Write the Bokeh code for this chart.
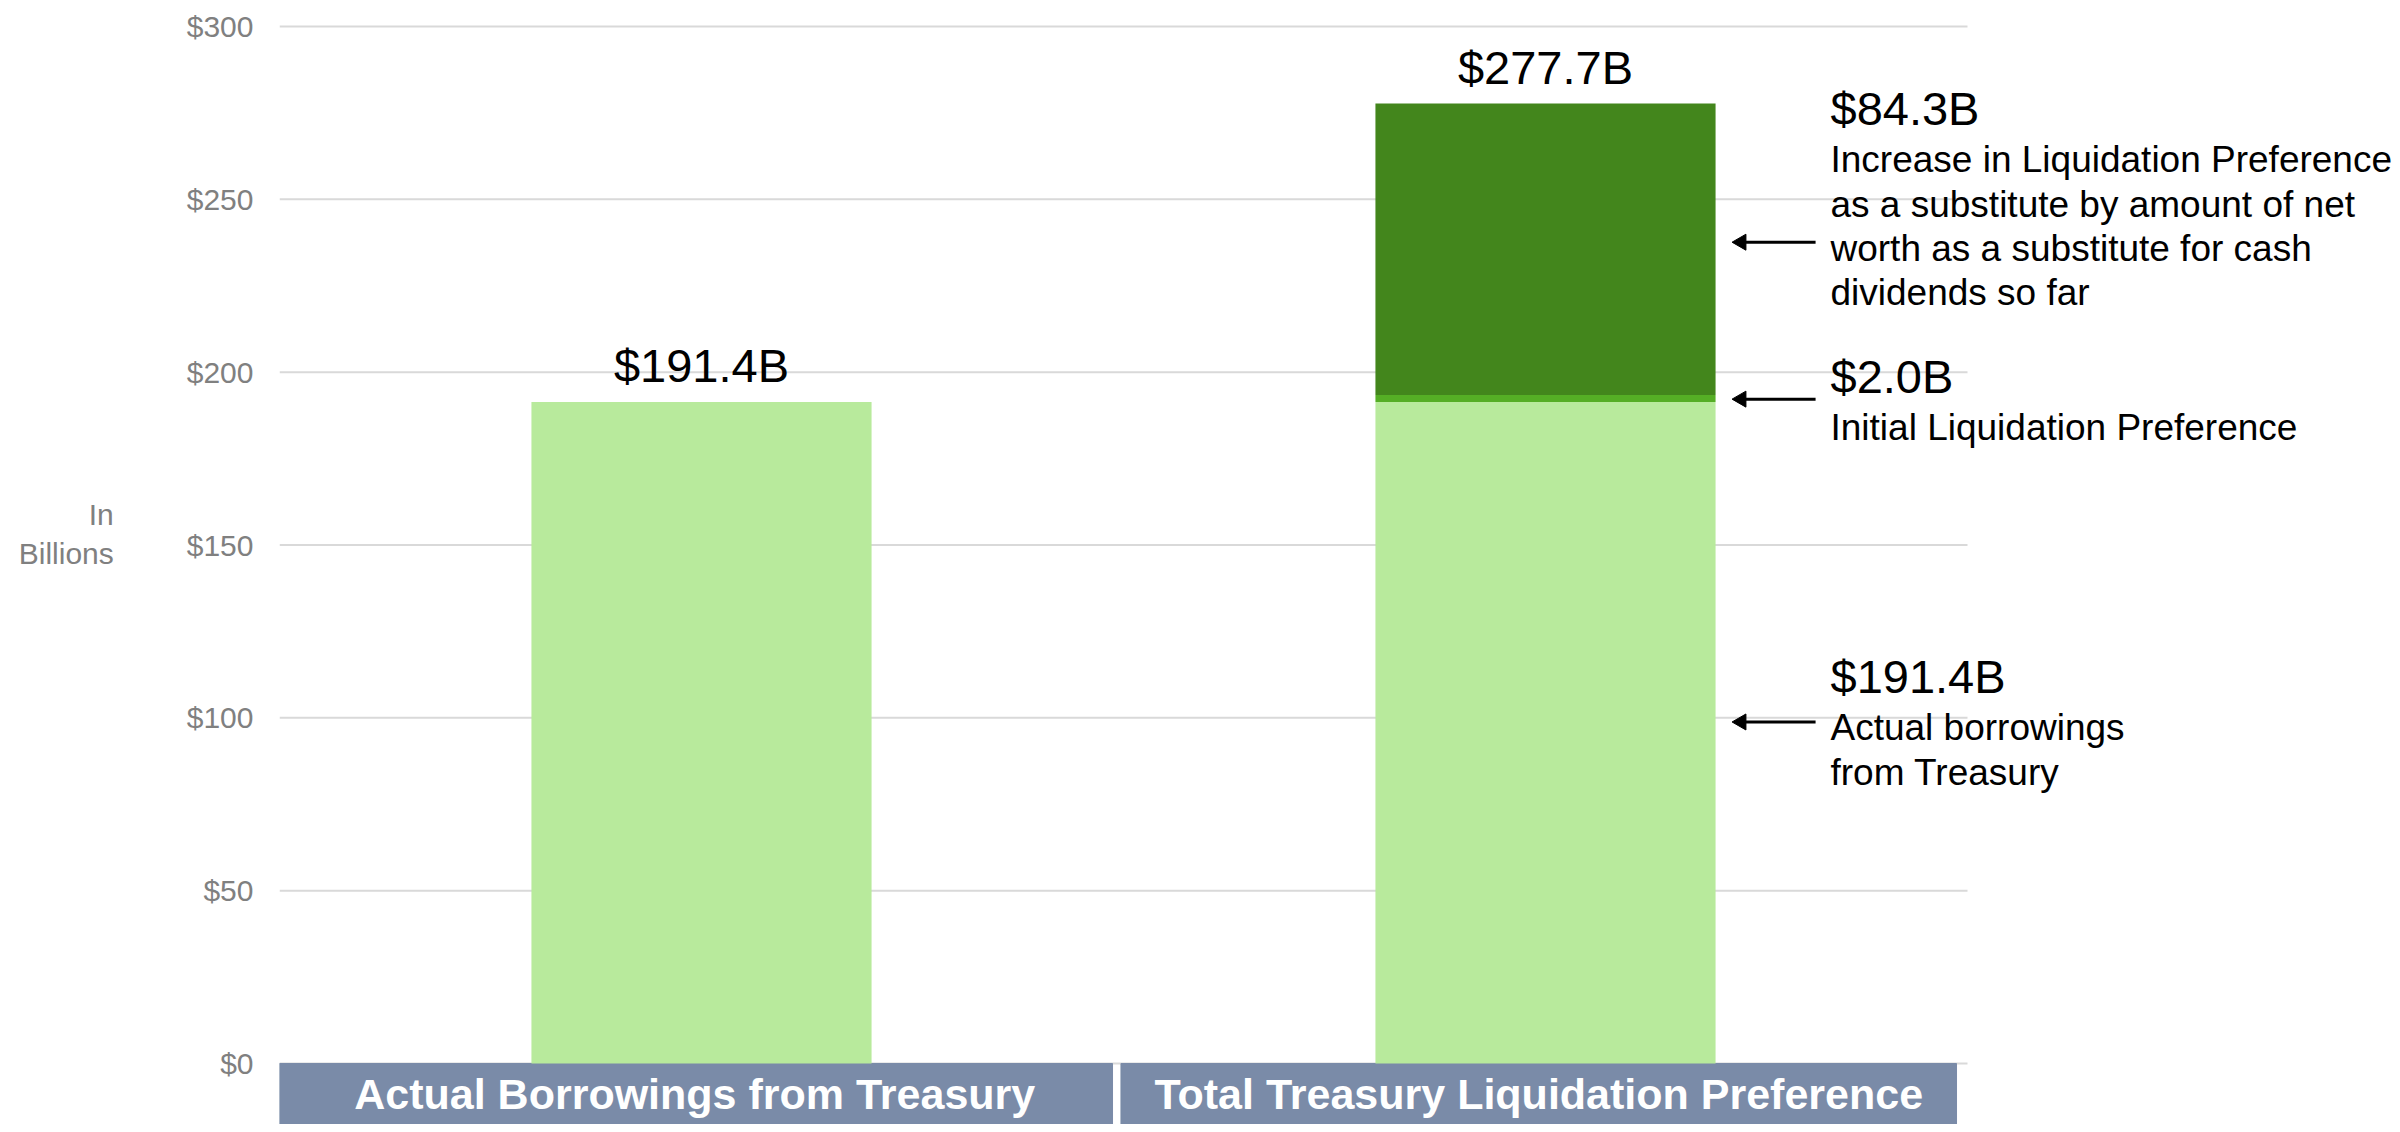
from math import pi
from bokeh.plotting import figure
from bokeh.models import ColumnDataSource, FixedTicker, NumeralTickFormatter, LabelSet, Range1d
from bokeh.core.properties import value
from bokeh.embed import file_html
from bokeh.resources import INLINE

# ---- data ----
categories = ["Actual Borrowings from Treasury", "Total Treasury Liquidation Preference"]
borrowings = [191.4, 191.4]
initial_lp = [0.0, 2.0]
increase_lp = [0.0, 84.3]
totals = [191.4, 277.7]
total_labels = ["$191.4B", "$277.7B"]
y_ticks = [0, 50, 100, 150, 200, 250, 300]

# annotation texts (heading, body lines) and the level each arrow points to
ann_headings = ["$84.3B", "$2.0B", "$191.4B"]
ann_bodies = [
    ["Increase in Liquidation Preference", "as a substitute by amount of net",
     "worth as a substitute for cash", "dividends so far"],
    ["Initial Liquidation Preference"],
    ["Actual borrowings", "from Treasury"],
]
arrow_levels = [237.6, 192.2, 98.8]

FONT = "Liberation Sans"
Y0, Y1 = -17.65, 301.16
n = len(categories)
cat_x = [i + 0.5 for i in range(n)]          # category slots on the x scale
X1 = n * (2392 - 279) / (1967 - 279)          # extra room on the right for notes

p = figure(
    x_range=Range1d(0, X1), y_range=Range1d(Y0, Y1),
    width=2392, height=1124, output_backend="svg", toolbar_location=None,
    title=None, x_axis_location=None,
    min_border_left=279, min_border_right=0, min_border_top=22, min_border_bottom=0,
)
p.outline_line_color = None
p.background_fill_color = "white"
p.border_fill_color = "white"
p.xgrid.visible = False
p.ygrid.visible = False

# y axis
ax = p.yaxis[0]
ax.ticker = FixedTicker(ticks=y_ticks)
ax.formatter = NumeralTickFormatter(format="$0")
ax.axis_line_color = None
ax.major_tick_line_color = None
ax.minor_tick_line_color = None
ax.major_tick_out = 0
ax.major_tick_in = 0
ax.major_label_standoff = 26
ax.major_label_text_font = FONT
ax.major_label_text_font_size = "30px"
ax.major_label_text_color = "#808080"
# trailing empty lines lift the centred two-line label to where the original sits
ax.axis_label = "In\nBillions\n\n"
ax.axis_label_orientation = "horizontal"
ax.axis_label_text_font = FONT
ax.axis_label_text_font_style = "normal"
ax.axis_label_text_font_size = "30px"
ax.axis_label_text_color = "#808080"
ax.axis_label_standoff = 70

# horizontal gridlines across the category area only
p.segment(x0=0, x1=n, y0=y_ticks, y1=y_ticks, line_color="#d9d9d9", line_width=2)

# category bands below zero
band_src = ColumnDataSource(dict(x=[c - 0.008 for c in cat_x], cat=categories))
p.vbar(x="x", width=0.99, top=0, bottom=Y0, color="#7A8BA8", source=band_src)
p.text(x="x", y=Y0 / 2, text="cat", source=band_src,
       text_font=value(FONT), text_font_style="bold", text_font_size="43px",
       text_color="white", text_align="center", text_baseline="middle")

# stacked bars
bar_src = ColumnDataSource(dict(x=cat_x, cat=categories, borrow=borrowings, initial=initial_lp,
                                increase=increase_lp, total=totals, label=total_labels))
p.vbar_stack(["borrow", "initial", "increase"], x="x", width=0.403,
             fill_color=["#B8EA9C", "#55AE25", "#43861C"], line_color=None, source=bar_src)

p.text(x="x", y="total", text="label", source=bar_src, y_offset=-10,
       text_font=value(FONT), text_font_size="47px", text_color="black",
       text_align="center", text_baseline="bottom")

# arrows pointing at the segments of the second bar
xb = cat_x[1]
arr_src = ColumnDataSource(dict(x0=[xb + 0.235] * 3, x1=[xb + 0.32] * 3,
                                xh=[xb + 0.232] * 3, y=arrow_levels))
p.segment(x0="x0", x1="x1", y0="y", y1="y", line_color="black", line_width=3, source=arr_src)
p.scatter(x="xh", y="y", marker="triangle", size=16, angle=pi / 2,
          fill_color="black", line_color="black", source=arr_src)

# annotation texts
head_y = [271.5, 194.0, 107.3]
body_y = [[257.9, 244.9, 232.2, 219.4], [180.4], [93.7, 80.7]]
body_t, body_yy = [], []
for lines, bys in zip(ann_bodies, body_y):
    body_t += lines
    body_yy += bys
head_src = ColumnDataSource(dict(x=[xb] * len(ann_headings), y=head_y, t=ann_headings))
body_src = ColumnDataSource(dict(x=[xb] * len(body_t), y=body_yy, t=body_t))
p.add_layout(LabelSet(x="x", y="y", text="t", source=head_src, x_offset=285,
                      text_font=value(FONT), text_font_size="47px", text_color="black",
                      text_baseline="alphabetic", text_align="left"))
p.add_layout(LabelSet(x="x", y="y", text="t", source=body_src, x_offset=285,
                      text_font=value(FONT), text_font_size="37px", text_color="black",
                      text_baseline="alphabetic", text_align="left"))

open("out.html", "w").write(file_html(p, INLINE))
